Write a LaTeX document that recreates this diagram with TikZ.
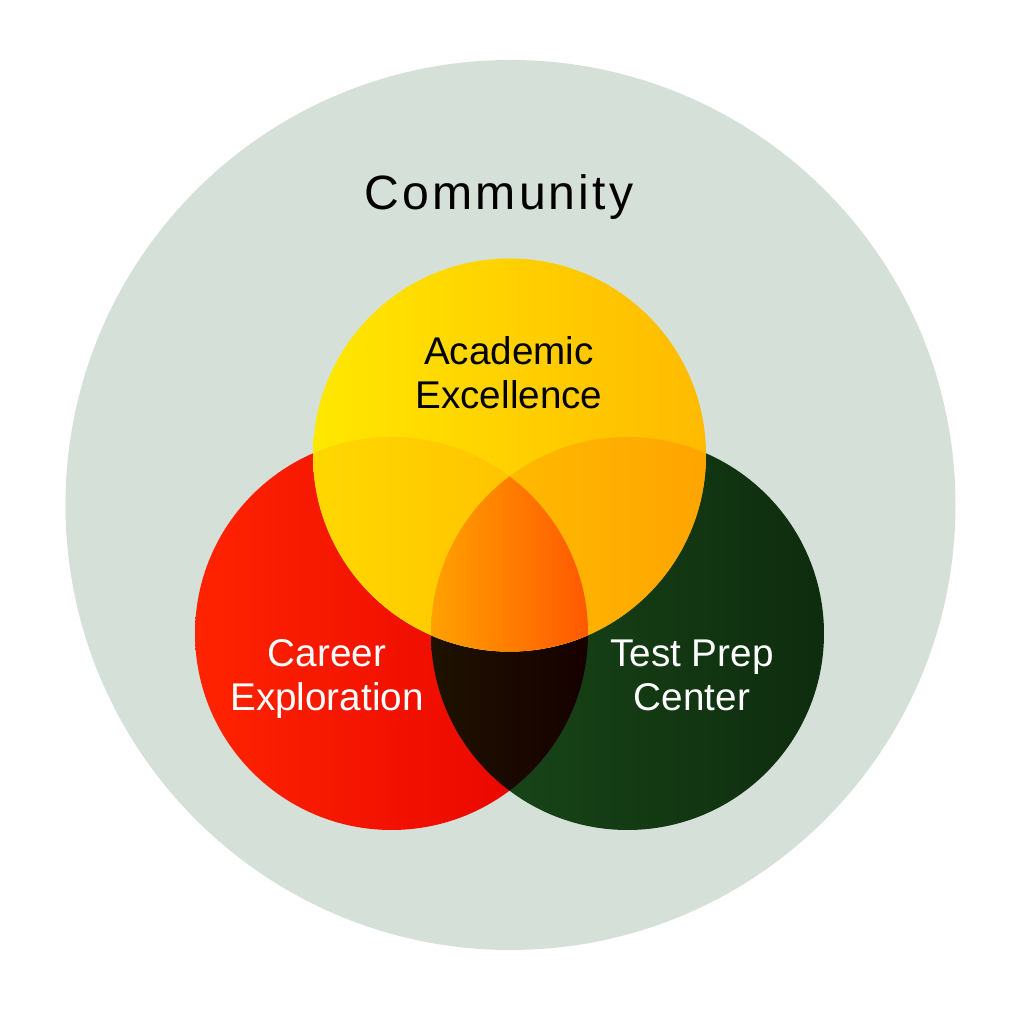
\documentclass[tikz,border=0pt]{standalone}
\usepackage{fontspec}
\setmainfont{Liberation Sans}
\newfontfamily\trackfont[LetterSpace=6.5]{Liberation Sans}
\definecolor{commbg}{HTML}{D5E1D8}
\definecolor{yelL}{HTML}{FFE800}
\definecolor{yelR}{HTML}{FFBA00}
\definecolor{redL}{HTML}{FF2400}
\definecolor{redR}{HTML}{E60000}
\definecolor{grnL}{HTML}{1A4A1A}
\definecolor{grnR}{HTML}{0E2C0E}
\definecolor{yrL}{HTML}{FFD800}
\definecolor{yrR}{HTML}{FFBC00}
\definecolor{ygL}{HTML}{FFC200}
\definecolor{ygR}{HTML}{FFA400}
\definecolor{midL}{HTML}{FFA200}
\definecolor{midR}{HTML}{FF5800}
\definecolor{rgL}{HTML}{1E1200}
\definecolor{rgR}{HTML}{160000}
\tikzset{
  lbl/.style={align=center,font=\fontsize{11}{12.5}\selectfont,inner sep=0pt},
  title/.style={font=\fontsize{13.7}{16}\trackfont,inner sep=0pt,anchor=base}
}
\newcommand{\rad}{1.965}
\newcommand{\overlap}[6]{% circles #1,#2; x range #3..#4; colours #5 -> #6
  \begin{scope}
    \clip (#1) circle (\rad);
    \clip (#2) circle (\rad);
    \shade[left color=#5,right color=#6] (#3,-1) rectangle (#4,-9.5);
  \end{scope}}
\begin{document}
\begin{tikzpicture}
  \useasboundingbox (0,0) rectangle (10.24,-10.11);
  \fill[white] (0,0) rectangle (10.24,-10.11);
  \coordinate (cC) at (5.105,-5.05);
  \coordinate (cY) at (5.095,-4.55);
  \coordinate (cR) at (3.915,-6.335);
  \coordinate (cG) at (6.275,-6.335);
  % community
  \fill[commbg] (cC) circle (4.45);
  % three circles
  \shade[left color=redL,right color=redR] (cR) circle (\rad);
  \shade[left color=grnL,right color=grnR] (cG) circle (\rad);
  \overlap{cR}{cG}{4.30}{5.88}{rgL}{rgR}
  \shade[left color=yelL,right color=yelR] (cY) circle (\rad);
  \overlap{cY}{cR}{3.13}{5.88}{yrL}{yrR}
  \overlap{cY}{cG}{4.30}{7.06}{ygL}{ygR}
  \begin{scope}
    \clip (cY) circle (\rad);
    \clip (cR) circle (\rad);
    \clip (cG) circle (\rad);
    \shade[left color=midL,right color=midR] (4.30,-1) rectangle (5.88,-9.5);
  \end{scope}
  % labels
  \node[title] (community) at (4.99,-2.10) {Community};
  \node[lbl] (academic) at (5.09,-3.73) {Academic\\Excellence};
  \node[lbl,text=white] (career) at (3.27,-6.79) {Career\\Exploration};
  \node[lbl,text=white] (testprep) at (6.92,-6.75) {Test Prep\\Center};
\end{tikzpicture}
\end{document}
